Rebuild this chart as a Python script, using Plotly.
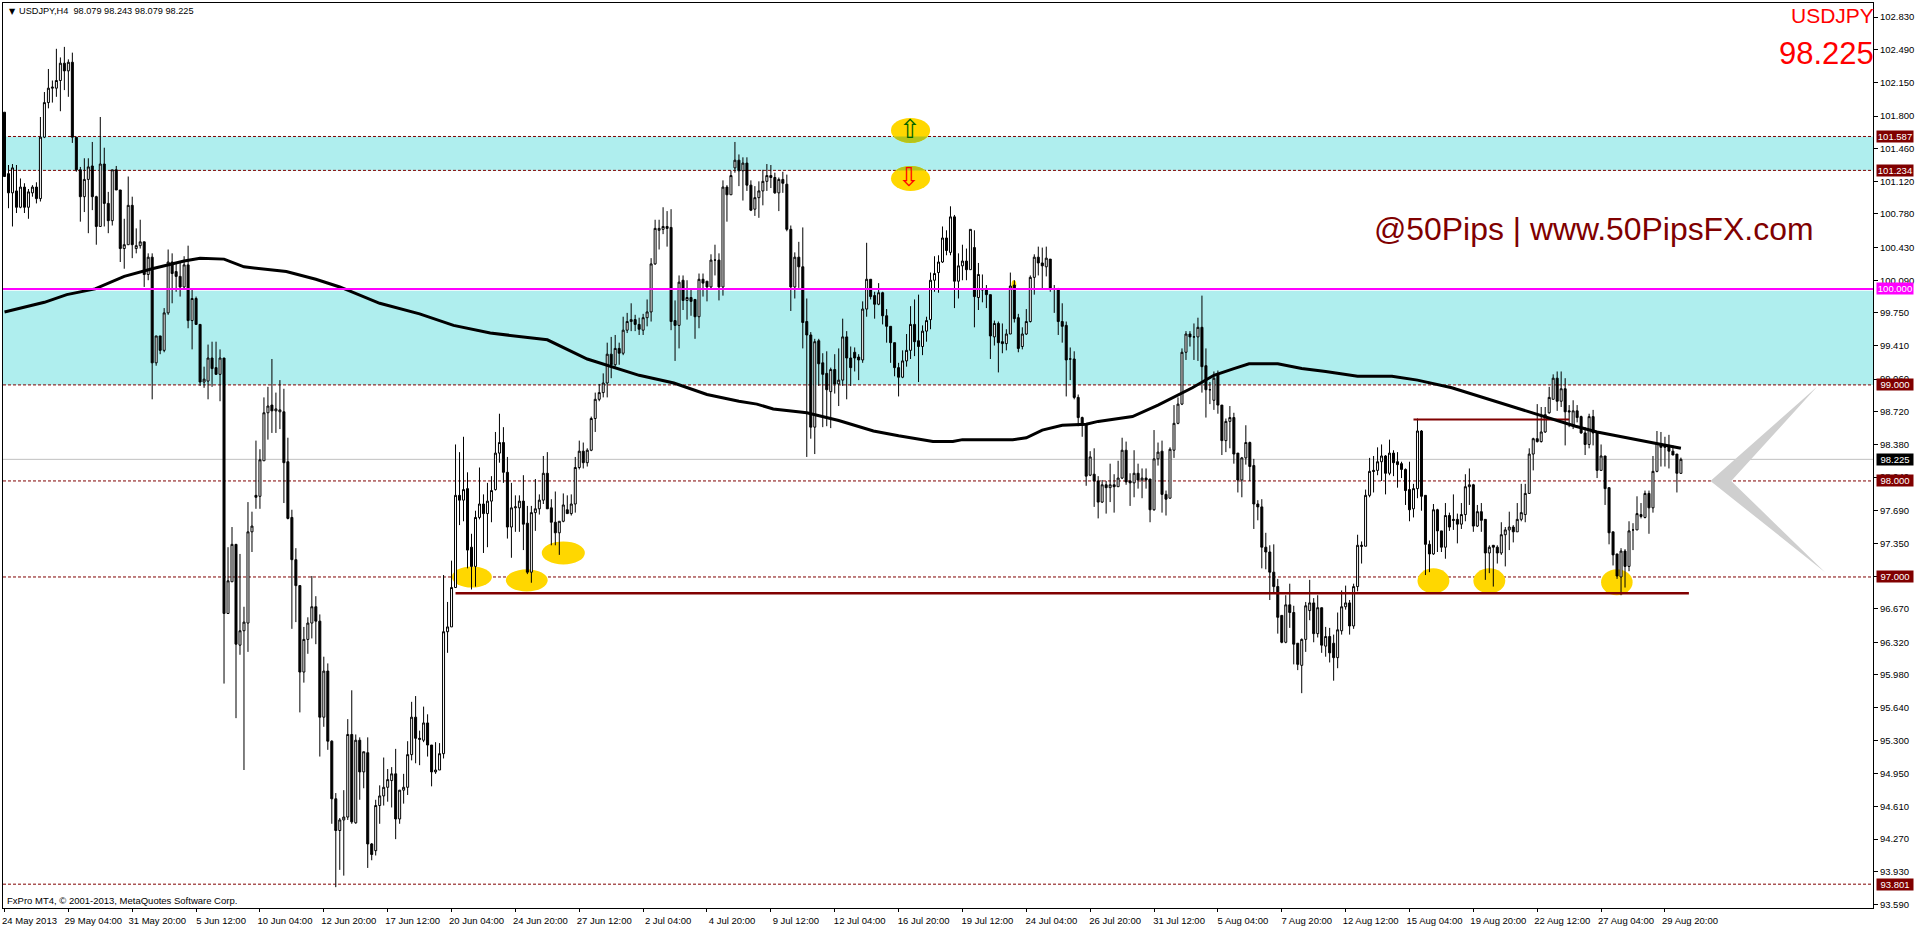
import numpy as np
import plotly.graph_objects as go

# ---------- chart data ----------
dates = ["24 May 2013","29 May 04:00","31 May 20:00","5 Jun 12:00","10 Jun 04:00","12 Jun 20:00","17 Jun 12:00",
         "20 Jun 04:00","24 Jun 20:00","27 Jun 12:00","2 Jul 04:00","4 Jul 20:00","9 Jul 12:00","12 Jul 04:00",
         "16 Jul 20:00","19 Jul 12:00","24 Jul 04:00","26 Jul 20:00","31 Jul 12:00","5 Aug 04:00","7 Aug 20:00",
         "12 Aug 12:00","15 Aug 04:00","19 Aug 20:00","22 Aug 12:00","27 Aug 04:00","29 Aug 20:00"]
price_ticks = [102.83,102.49,102.15,101.80,101.46,101.12,100.78,100.43,100.09,99.75,99.41,99.06,98.72,98.38,
               98.04,97.69,97.35,97.01,96.67,96.32,95.98,95.64,95.30,94.95,94.61,94.27,93.93,93.59]

opens = [101.84,101.20,101.00,101.02,100.85,101.06,100.85,101.00,101.06,100.94,
 101.58,101.94,102.09,102.09,102.17,102.35,102.27,102.36,101.58,101.24,
 100.96,101.14,101.28,100.96,100.65,101.30,100.89,100.71,101.24,101.03,
 100.42,100.46,100.87,100.42,100.45,100.49,100.15,100.33,99.23,99.51,
 99.36,99.75,100.28,100.18,100.13,100.02,100.25,99.67,99.90,99.63,
 99.03,99.04,99.28,99.18,99.11,99.28,96.62,96.95,97.34,96.29,
 96.44,96.52,97.47,97.85,97.84,98.21,98.71,98.79,98.73,98.72,
 98.72,98.20,97.62,97.18,96.91,96.01,96.35,96.52,96.69,96.54,
 95.54,96.02,95.29,94.69,94.36,94.47,94.50,95.36,94.44,95.30,
 94.97,95.17,94.22,94.15,94.62,94.72,94.81,94.88,94.95,94.48,
 94.78,94.81,95.15,95.54,95.32,95.30,95.48,95.25,94.97,94.99,
 95.16,96.43,96.48,96.89,97.85,97.80,97.92,97.31,97.11,97.62,
 97.76,97.66,97.79,97.91,98.29,98.40,98.09,97.52,97.72,97.72,
 97.79,97.56,97.05,97.67,97.71,97.80,98.08,97.72,97.57,97.46,
 97.58,97.70,97.66,97.76,98.14,98.31,98.19,98.32,98.65,98.85,
 98.92,99.02,99.32,99.21,99.38,99.33,99.57,99.66,99.68,99.63,
 99.57,99.70,99.76,100.26,100.61,100.62,100.65,100.64,99.67,99.62,
 100.09,99.88,99.91,99.89,99.71,100.10,100.08,100.02,100.30,100.30,
 100.02,101.06,100.98,101.26,101.34,101.23,101.31,101.08,100.83,100.95,
 101.02,101.12,101.18,101.16,101.00,101.14,101.09,100.62,100.02,100.33,
 100.23,99.66,99.52,98.56,99.46,99.23,99.12,98.93,99.16,99.01,
 99.05,99.50,99.28,99.34,99.29,99.26,99.79,100.10,99.93,99.84,
 99.96,99.72,99.61,99.44,99.18,99.08,99.25,99.36,99.63,99.46,
 99.40,99.56,99.68,100.09,100.17,100.28,100.53,100.38,100.75,100.08,
 100.24,100.29,100.20,100.43,99.91,100.00,99.99,99.94,99.50,99.64,
 99.45,99.43,99.53,100.04,99.70,99.40,99.53,99.66,100.12,100.33,
 100.27,100.23,100.31,100.00,99.99,99.66,99.62,99.27,99.27,98.87,
 98.66,98.59,98.06,98.07,98.00,97.78,97.96,97.93,97.96,97.94,
 98.03,98.32,98.00,97.98,98.08,98.01,98.03,98.02,97.70,98.23,
 98.31,97.86,97.82,98.32,98.60,98.80,99.34,99.53,99.50,99.50,
 99.60,99.20,98.95,98.84,99.11,98.79,98.42,98.62,98.66,98.29,
 98.01,98.24,98.40,98.16,97.76,97.73,97.31,97.26,97.05,96.90,
 96.60,96.32,96.71,96.63,96.31,96.08,96.35,96.65,96.73,96.41,
 96.68,96.28,96.38,96.31,96.16,96.44,96.69,96.73,96.49,96.90,
 97.33,97.32,97.85,98.11,98.11,98.20,98.26,98.08,98.29,98.20,
 98.18,98.12,97.91,97.71,97.92,98.52,97.85,97.34,97.24,97.70,
 97.48,97.31,97.64,97.60,97.60,97.55,97.65,97.94,97.96,97.53,
 97.68,97.60,97.25,97.33,97.31,97.25,97.44,97.49,97.52,97.47,
 97.60,97.65,97.87,98.28,98.44,98.41,98.51,98.71,98.85,99.07,
 98.83,98.96,98.73,98.58,98.73,98.67,98.50,98.38,98.67,98.51,
 98.11,98.26,97.93,97.47,97.24,97.00,97.27,97.11,97.49,97.49,
 97.65,97.62,97.87,97.72,98.10,98.39,98.38,98.37,98.31,98.28,98.079]

closes = [101.17,101.00,101.26,100.85,101.06,100.85,101.01,101.06,100.94,101.58,
 101.94,102.09,102.10,102.17,102.35,102.27,102.36,101.58,101.24,100.96,
 101.14,101.27,100.96,100.65,101.30,100.89,100.71,101.24,101.03,100.42,
 100.46,100.87,100.46,100.45,100.49,100.15,100.33,99.23,99.51,99.36,
 99.75,100.28,100.16,100.13,100.02,100.25,99.67,99.90,99.63,99.03,
 99.06,99.28,99.17,99.11,99.28,96.62,96.96,97.34,96.30,96.44,
 96.53,97.47,97.53,97.83,98.22,98.71,98.78,98.73,98.75,98.74,
 98.19,97.61,97.18,96.91,96.01,96.35,96.52,96.69,96.54,95.54,
 96.02,95.29,94.69,94.36,94.47,94.50,95.36,94.45,95.30,94.97,
 95.18,94.22,94.11,94.62,94.72,94.81,94.89,94.95,94.48,94.78,
 94.81,95.15,95.54,95.32,95.31,95.48,95.25,94.97,94.99,95.16,
 96.43,96.48,96.89,97.85,97.80,97.91,97.28,97.11,97.62,97.76,
 97.66,97.79,97.90,98.29,98.40,98.09,97.52,97.72,97.73,97.79,
 97.55,97.05,97.67,97.71,97.80,98.08,97.71,97.57,97.46,97.58,
 97.75,97.66,97.76,98.14,98.31,98.19,98.32,98.65,98.85,98.92,
 99.02,99.32,99.21,99.38,99.33,99.57,99.66,99.68,99.63,99.58,
 99.70,99.76,100.26,100.63,100.63,100.65,100.63,99.66,99.62,100.07,
 99.88,99.91,99.87,99.71,100.10,100.06,100.02,100.30,100.30,100.02,
 101.06,100.98,101.18,101.34,101.23,101.31,101.08,100.82,100.95,101.02,
 101.12,101.18,101.16,101.00,101.14,101.10,100.62,100.02,100.33,100.23,
 99.65,99.52,98.56,99.45,99.22,99.11,98.95,99.16,99.01,99.05,
 99.50,99.28,99.18,99.28,99.26,99.79,100.10,99.92,99.84,99.96,
 99.72,99.61,99.44,99.18,99.08,99.25,99.36,99.63,99.45,99.40,
 99.56,99.67,100.09,100.16,100.28,100.53,100.40,100.75,100.08,100.24,
 100.29,100.20,100.62,99.92,100.15,99.99,99.94,99.51,99.64,99.44,
 99.43,99.53,100.03,99.69,99.38,99.53,99.66,100.12,100.33,100.27,
 100.24,100.32,100.01,100.00,99.66,99.61,99.26,99.27,98.87,98.66,
 98.58,98.05,98.25,98.00,97.78,97.96,97.93,97.96,97.94,98.03,
 98.32,97.99,97.98,98.08,98.01,98.03,98.01,97.70,98.23,98.30,
 97.86,97.81,98.33,98.60,98.80,99.34,99.53,99.50,99.50,99.60,
 99.19,98.95,98.95,99.07,98.79,98.42,98.62,98.66,98.28,98.01,
 98.24,98.40,98.15,97.76,97.73,97.31,97.26,97.05,96.90,96.58,
 96.32,96.71,96.63,96.30,96.09,96.35,96.70,96.73,96.41,96.68,
 96.29,96.38,96.21,96.16,96.45,96.69,96.73,96.49,96.90,97.33,
 97.32,97.85,98.10,98.10,98.20,98.26,98.08,98.29,98.19,98.17,
 98.12,97.90,97.70,97.92,98.52,97.84,97.34,97.24,97.70,97.48,
 97.31,97.64,97.52,97.59,97.55,97.65,97.94,97.96,97.53,97.68,
 97.59,97.25,97.31,97.31,97.25,97.44,97.49,97.52,97.47,97.60,
 97.67,97.87,98.28,98.44,98.41,98.51,98.69,98.87,99.07,98.83,
 98.96,98.72,98.72,98.73,98.66,98.50,98.38,98.67,98.50,98.11,
 98.26,97.92,97.46,97.23,97.01,97.27,97.11,97.48,97.49,97.66,
 97.63,97.87,97.72,98.10,98.39,98.35,98.35,98.31,98.27,98.08,98.225]

highs = [101.84,101.29,101.30,101.29,101.15,101.10,101.04,101.08,101.11,101.79,
 102.05,102.29,102.17,102.50,102.41,102.52,102.39,102.46,101.58,101.27,
 101.36,101.36,101.53,100.97,101.79,101.47,101.01,101.24,101.28,101.03,
 100.73,101.17,100.96,100.63,100.72,100.49,100.37,100.37,99.51,99.51,
 99.80,100.41,100.37,100.28,100.28,100.34,100.45,99.99,99.92,99.63,
 99.19,99.42,99.45,99.45,99.37,99.28,97.31,97.52,97.34,97.24,
 96.69,97.78,97.68,98.42,98.33,98.87,98.98,99.27,98.92,99.05,
 98.96,98.45,97.70,97.30,96.91,96.48,96.58,97.01,96.80,96.61,
 96.17,96.10,95.30,94.75,94.49,94.78,95.52,95.82,95.36,95.33,
 95.18,95.33,94.23,94.68,94.83,95.12,95.00,95.02,95.21,94.78,
 94.95,95.29,95.70,95.76,95.40,95.65,95.57,95.25,95.28,95.27,
 97.02,96.74,97.17,98.38,98.30,98.46,98.09,97.45,97.69,98.14,
 97.86,97.98,98.05,98.51,98.70,98.56,98.25,97.98,97.85,97.85,
 98.06,97.74,97.74,98.02,97.86,98.26,98.30,97.81,97.89,97.58,
 97.87,97.85,97.86,98.25,98.42,98.40,98.34,98.67,98.92,99.01,
 99.12,99.44,99.50,99.52,99.44,99.71,99.75,99.85,99.73,99.70,
 99.74,99.89,100.32,100.72,100.72,100.85,100.81,100.83,99.88,100.14,
 100.14,100.09,100.00,99.89,100.16,100.16,100.08,100.36,100.46,100.37,
 101.13,101.08,101.23,101.53,101.40,101.37,101.37,101.13,101.07,101.12,
 101.24,101.30,101.29,101.21,101.16,101.22,101.19,100.66,100.38,100.49,
 100.64,99.90,99.55,99.48,99.48,99.33,99.35,99.18,99.32,99.38,
 99.69,99.56,99.40,99.39,99.32,99.87,100.48,100.10,99.97,100.06,
 99.97,99.79,99.61,99.44,99.23,99.36,99.53,99.82,99.89,99.94,
 99.62,99.71,100.17,100.34,100.35,100.65,100.61,100.86,100.77,100.37,
 100.46,100.42,100.62,100.61,100.27,100.15,100.04,99.94,99.67,99.66,
 99.64,99.58,100.17,100.09,99.74,99.60,99.79,100.14,100.36,100.44,
 100.43,100.44,100.31,100.04,100.01,99.85,99.66,99.39,99.35,98.90,
 98.67,98.59,98.31,98.34,98.05,98.01,98.00,98.18,98.07,98.21,
 98.45,98.41,98.08,98.32,98.18,98.13,98.13,98.02,98.53,98.40,
 98.42,97.90,98.35,98.79,98.87,99.38,99.56,99.56,99.64,99.70,
 99.93,99.38,99.03,99.14,99.15,98.79,98.65,98.78,98.71,98.29,
 98.25,98.58,98.41,98.23,97.80,97.81,97.46,97.33,97.34,96.98,
 96.60,96.81,96.93,96.70,96.31,96.36,96.74,96.97,96.78,96.81,
 96.68,96.48,96.47,96.40,96.63,96.86,96.91,96.76,96.93,97.44,
 97.37,97.91,98.24,98.26,98.35,98.38,98.27,98.43,98.32,98.30,
 98.20,98.13,98.20,97.97,98.65,98.53,97.85,97.38,97.76,97.71,
 97.48,97.77,97.67,97.86,97.66,97.77,98.07,98.13,97.97,97.75,
 97.77,97.60,97.33,97.33,97.33,97.57,97.52,97.68,97.54,97.77,
 97.97,97.97,98.34,98.45,98.80,98.77,98.77,98.98,99.11,99.14,
 99.14,99.07,98.79,98.84,98.79,98.68,98.56,98.70,98.74,98.51,
 98.38,98.26,97.93,97.47,97.24,97.30,97.29,97.58,97.56,97.84,
 97.77,97.90,97.90,98.26,98.52,98.51,98.46,98.48,98.37,98.28,98.243]

lows = [101.17,100.84,100.65,100.79,100.84,100.79,100.73,100.96,100.89,100.91,
 101.57,101.88,101.94,102.00,101.85,102.07,102.00,101.52,101.22,100.70,
 100.80,100.58,100.82,100.46,100.65,100.65,100.58,100.66,101.03,100.28,
 100.21,100.46,100.32,100.37,100.42,100.02,100.09,98.85,99.20,99.32,
 99.34,99.73,99.85,99.97,99.92,99.99,99.59,99.37,99.63,98.99,
 98.97,98.85,98.98,99.11,98.83,95.89,96.62,96.95,95.53,96.19,
 94.99,96.22,97.26,97.71,97.71,98.21,98.43,98.50,98.50,98.54,
 97.77,97.60,96.46,96.53,95.59,95.90,96.20,96.36,96.30,95.13,
 95.44,95.20,94.43,93.77,93.95,93.89,94.47,94.43,94.43,94.68,
 94.80,93.97,94.05,94.10,94.43,94.62,94.66,94.60,94.27,94.43,
 94.64,94.73,95.09,95.06,95.04,95.28,95.13,94.82,94.95,94.99,
 95.11,96.21,96.48,96.89,97.54,97.58,97.09,96.87,96.90,97.60,
 97.25,97.31,97.57,97.90,98.19,97.98,97.40,97.20,97.47,97.47,
 97.28,97.03,96.94,97.48,97.65,97.76,97.71,97.33,97.33,97.23,
 97.57,97.66,97.64,97.67,98.12,98.13,98.15,98.31,98.51,98.83,
 98.87,98.87,99.07,99.19,99.21,99.31,99.54,99.56,99.56,99.52,
 99.52,99.61,99.66,100.25,100.41,100.57,100.44,99.57,99.25,99.38,
 99.78,99.68,99.72,99.48,99.59,99.92,99.87,100.00,100.14,99.88,
 99.93,100.70,100.98,101.21,101.07,100.92,101.02,100.81,100.76,100.74,
 100.87,101.02,101.05,100.99,100.81,101.00,100.60,99.77,99.90,100.01,
 99.38,98.25,98.44,98.28,98.99,98.56,98.57,98.55,98.91,98.78,
 98.99,98.85,98.99,99.14,99.05,99.23,99.71,99.89,99.69,99.83,
 99.63,99.44,99.23,99.09,98.88,99.07,99.19,99.27,99.30,99.03,
 99.31,99.45,99.58,99.97,99.96,100.27,100.35,100.35,99.80,99.90,
 100.09,100.09,100.20,99.60,99.78,99.86,99.80,99.27,99.41,99.13,
 99.33,99.36,99.53,99.65,99.34,99.37,99.52,99.65,99.94,100.14,
 99.99,100.13,99.97,99.75,99.52,99.44,98.88,99.05,98.85,98.57,
 98.46,97.95,98.05,97.73,97.61,97.77,97.66,97.78,97.67,97.94,
 98.02,97.96,97.74,97.83,97.92,97.82,97.92,97.57,97.69,98.16,
 97.67,97.64,97.82,98.24,98.59,98.79,99.26,99.40,99.26,99.25,
 98.92,98.66,98.80,98.74,98.70,98.27,98.30,98.34,98.18,97.88,
 97.83,98.17,98.00,97.50,97.59,97.09,97.08,96.76,96.83,96.41,
 96.31,96.31,96.47,96.09,96.03,95.79,96.22,96.55,96.32,96.37,
 96.21,96.17,96.11,95.92,96.05,96.40,96.66,96.40,96.46,96.85,
 97.14,97.32,97.83,97.88,98.06,98.00,97.86,98.06,98.05,97.93,
 98.03,97.75,97.58,97.62,97.82,97.69,97.02,97.05,97.23,97.26,
 97.26,97.19,97.48,97.49,97.35,97.50,97.58,97.75,97.47,97.52,
 97.47,96.97,97.04,96.90,97.14,97.23,97.11,97.28,97.36,97.47,
 97.58,97.57,97.87,98.11,98.40,98.40,98.50,98.70,98.85,98.73,
 98.77,98.37,98.56,98.54,98.61,98.49,98.27,98.34,98.37,98.03,
 98.11,97.75,97.34,97.12,96.98,96.81,96.89,97.06,97.28,97.49,
 97.61,97.61,97.45,97.67,98.09,98.15,98.15,98.13,98.27,97.88,98.079]

assert len(opens) == len(highs) == len(lows) == len(closes) == 421

# moving average, read at its visible vertices
ma_bar = [0,10,15.6,22.7,30,37,45,49,55,60,70.6,78,84,94,104,112.5,121.7,136,146,159,167.7,176,184,188.5,192.6,201,209,
          217.7,224,232.6,237.6,240,252.6,256,260,265,271,274,282.6,289,297.6,303,308,311.8,319,325,331,339,347.6,354,
          362.6,371,379,387.6,393.6,399,407.6,414,420]
ma_val = [99.76,99.86,99.94,100.0,100.13,100.21,100.29,100.32,100.31,100.23,100.18,100.10,100.02,99.85,99.74,99.62,99.54,
          99.47,99.27,99.10,99.02,98.90,98.83,98.80,98.75,98.71,98.63,98.52,98.47,98.41,98.41,98.43,98.43,98.45,98.53,98.58,
          98.59,98.62,98.67,98.79,98.97,99.10,99.17,99.22,99.22,99.17,99.14,99.09,99.09,99.05,98.97,98.86,98.76,98.65,98.57,
          98.51,98.44,98.39,98.34]

dashed_levels = [101.587, 101.234, 99.0, 98.0, 97.0, 93.801]
current_price = 98.225
round_level = 100.0
band_upper = (101.234, 101.587)
band_lower = (99.0, 99.98)

support_bars, support_vals = [113, 422], [96.83, 96.83]
resist_bars, resist_vals = [353, 392], [98.64, 98.64]

# gold highlights: first bar, last bar, low price, high price
highlights = [(112.1,122.1,96.89,97.11),(125.6,136.1,96.85,97.08),(134.6,145.4,97.13,97.37),
              (222.1,231.9,101.52,101.78),(222.1,231.9,101.02,101.28),(354,362,96.83,97.09),
              (368,376,96.83,97.09),(400,407.9,96.81,97.08),(252.3,253.5,100.0,100.09)]

WIDTH, HEIGHT = 1916, 928
L, T, PLOT_R, PLOT_B = 2, 2, 1876, 910
TXT = "Liberation Sans"
DARK = "#800000"


def px(x):
    return (x - L) / (PLOT_R - L)


def py(y):
    return 1 - (y - T) / (PLOT_B - T)


def cap_path(b0, b1, lo, hi, cut_lo, cut_hi):
    """Outline of the part of a highlight ellipse that lies inside a price band."""
    cx, cy, a, b = (b0 + b1) / 2, (lo + hi) / 2, (b1 - b0) / 2, (hi - lo) / 2
    t = np.linspace(0, 2 * np.pi, 90)
    xs, ys = cx + a * np.cos(t), cy + b * np.sin(t)
    ys = np.clip(ys, cut_lo, cut_hi)
    return "M" + " L".join(f"{x:.3f},{y:.3f}" for x, y in zip(xs, ys)) + " Z"


bars = list(range(len(opens)))
fig = go.Figure()

fig.add_trace(go.Candlestick(
    x=bars, open=opens, high=highs, low=lows, close=closes,
    increasing=dict(line=dict(color="black", width=1), fillcolor="white"),
    decreasing=dict(line=dict(color="black", width=1), fillcolor="black"),
    whiskerwidth=0, showlegend=False, hoverinfo="skip"))
fig.add_trace(go.Scatter(x=support_bars, y=support_vals, mode="lines",
                         line=dict(color=DARK, width=2.5), showlegend=False, hoverinfo="skip"))
fig.add_trace(go.Scatter(x=resist_bars, y=resist_vals, mode="lines",
                         line=dict(color=DARK, width=2), showlegend=False, hoverinfo="skip"))
fig.add_trace(go.Scatter(x=ma_bar, y=ma_val, mode="lines",
                         line=dict(color="black", width=3), showlegend=False, hoverinfo="skip"))

shapes = []
for lo, hi in (band_upper, band_lower):
    shapes.append(dict(type="rect", xref="paper", x0=0, x1=1, yref="y", y0=lo, y1=hi,
                       fillcolor="#AFEEEE", line_width=0, layer="below"))
for b0, b1, lo, hi in highlights:
    shapes.append(dict(type="circle", xref="x", yref="y", x0=b0, x1=b1, y0=lo, y1=hi,
                       fillcolor="#FFD700", line_width=0, layer="below"))
# the top two highlights blend with the band behind them
shapes.append(dict(type="path", path=cap_path(*highlights[3], 101.52, 101.587), fillcolor="#B5C41A", line_width=0, layer="below"))
shapes.append(dict(type="path", path=cap_path(*highlights[4], 101.234, 101.28), fillcolor="#B5C41A", line_width=0, layer="below"))
shapes.append(dict(type="path", path="M427.4,98 L454.1,98.98 L432.6,98 L456.1,97.05 Z",
                   fillcolor="#CFCFCF", line_width=0, layer="below"))
shapes.append(dict(type="line", xref="paper", x0=0, x1=1, yref="y", y0=current_price, y1=current_price,
                   line=dict(color="#C0C0C0", width=1), layer="below"))
for lvl in dashed_levels:
    shapes.append(dict(type="line", xref="paper", x0=0, x1=1, yref="y", y0=lvl, y1=lvl,
                       line=dict(color=DARK, width=1, dash="3px,2px"), layer="below"))
shapes.append(dict(type="line", xref="paper", x0=0, x1=1, yref="y", y0=round_level, y1=round_level,
                   line=dict(color="#FF00FF", width=2), layer="above"))

ann = []
# price flags on the right-hand scale
for lvl, col in [(101.587, DARK), (101.234, DARK), (100.0, "#FF00FF"), (99.0, DARK), (98.225, "black"),
                 (98.0, DARK), (97.0, DARK), (93.801, DARK)]:
    ann.append(dict(xref="paper", yref="y", x=px(1879), y=lvl, xanchor="left", yanchor="middle", text=f"{lvl:.3f}",
                    showarrow=False, bgcolor=col, font=dict(family=TXT, size=9.5, color="white"),
                    width=36, height=11, borderpad=0, align="center"))


def label(x, y, text, size, color, anchor="left", family=TXT):
    ann.append(dict(xref="paper", yref="paper", x=px(x), y=py(y), xanchor=anchor, yanchor="middle", text=text,
                    showarrow=False, font=dict(family=family, size=size, color=color)))


label(6, 10.5, "▼", 8, "black", family="DejaVu Sans")
label(16, 10.5, "USDJPY,H4  98.079 98.243 98.079 98.225", 9.2, "black")
label(4, 902, "FxPro MT4, © 2001-2013, MetaQuotes Software Corp.", 9.5, "black")
label(1879, 15, "USDJPY", 21, "#FF0000", "right")
label(1879, 52.5, "98.225", 31, "#FF0000", "right")
label(1373.5, 229, "@50Pips | www.50PipsFX.com", 31.9, DARK)
ann.append(dict(xref="x", yref="y", x=226.9, y=101.66, text="⇧", showarrow=False,
                font=dict(family="DejaVu Sans", size=26, color="#006400")))
ann.append(dict(xref="x", yref="y", x=226.6, y=101.16, text="⇩", showarrow=False,
                font=dict(family="DejaVu Sans", size=26, color="#FF0000")))

fig.update_layout(
    width=WIDTH, height=HEIGHT, autosize=False,
    margin=dict(l=L, t=T, r=WIDTH - PLOT_R, b=HEIGHT - PLOT_B, pad=0),
    paper_bgcolor="white", plot_bgcolor="white", showlegend=False,
    boxmode="overlay", boxgap=0.5, boxgroupgap=0, hovermode=False,
    shapes=shapes, annotations=ann,
    xaxis=dict(range=[-0.375, 468.125], rangeslider=dict(visible=False), tickmode="array",
               tickvals=[16 * k for k in range(len(dates))], ticktext=dates, ticks="outside", ticklen=3,
               tickwidth=1, tickcolor="black", showgrid=False, zeroline=False, showline=True, linecolor="black",
               linewidth=1, mirror=True, ticklabelshift=25, tickangle=0, ticklabelstandoff=1,
               tickfont=dict(family=TXT, size=9.5, color="black")),
    yaxis=dict(range=[93.553, 102.977], side="right", tickmode="array", tickvals=price_ticks,
               tickformat=".3f", ticks="outside", ticklen=4, tickwidth=1, tickcolor="black", showgrid=False,
               zeroline=False, showline=True, linecolor="black", linewidth=1, mirror=True,
               tickfont=dict(family=TXT, size=9.5, color="black")),
)

fig.write_html("out.html", config=dict(displayModeBar=False),
               post_script="document.body.style.margin='0';document.body.style.overflow='hidden';")
